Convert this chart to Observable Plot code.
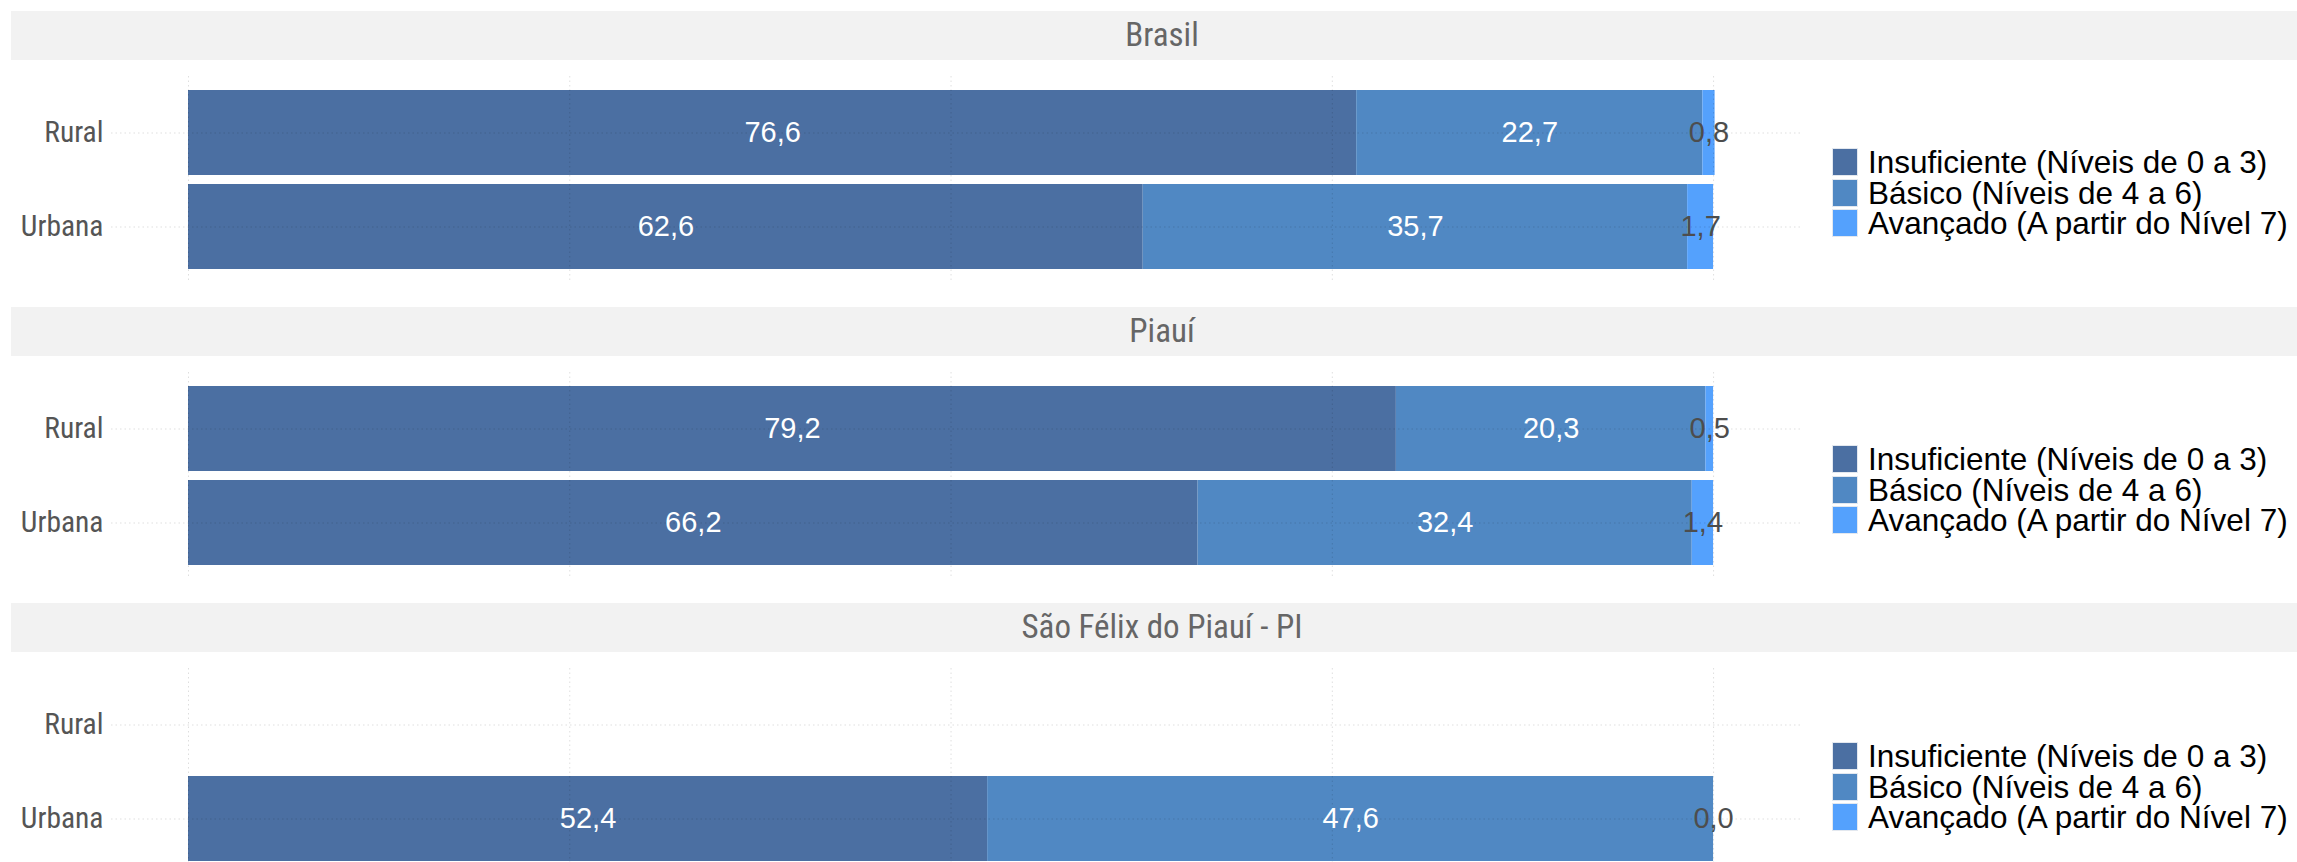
<!DOCTYPE html>
<html><head><meta charset="utf-8">
<script src="https://cdn.jsdelivr.net/npm/d3@7"></script>
<script src="https://cdn.jsdelivr.net/npm/@observablehq/plot@0.6"></script>
<style>
html,body{margin:0;padding:0;background:#fff;}
body{width:2297px;height:862px;overflow:hidden;position:relative;font-family:"Liberation Sans",Arial,sans-serif;}
.strip{position:absolute;left:11px;width:2302px;height:49px;background:#f2f2f2;color:#666;font-family:"Liberation Sans Narrow","Roboto Condensed",Roboto,sans-serif;font-size:33px;line-height:47px;text-align:center;}
.panel{position:absolute;left:0;}
.legend{position:absolute;left:1832px;}
.row{height:30.5px;position:relative;}
.sw{position:absolute;left:0;top:0;width:26px;height:28px;box-sizing:border-box;border:1px solid #e3e8ef;}
.lab{position:absolute;left:36px;top:0;font-size:31.5px;line-height:28px;color:#000;white-space:nowrap;}
</style></head><body>
<script>
const panels = ["Brasil", "Piauí", "São Félix do Piauí - PI"];
const locations = ["Rural", "Urbana"];
const levels = ["Insuficiente (Níveis de 0 a 3)", "Básico (Níveis de 4 a 6)", "Avançado (A partir do Nível 7)"];
const colors = ["#4b6fa2", "#5088c3", "#54a1fd"];
// values per panel: [Rural, Urbana]
const insuficiente = [[76.6, 62.6], [79.2, 66.2], [null, 52.4]];
const basico = [[22.7, 35.7], [20.3, 32.4], [null, 47.6]];
const avancado = [[0.8, 1.7], [0.5, 1.4], [null, 0.0]];
const gridTicks = [0, 25, 50, 75, 100];

const series = [insuficiente, basico, avancado];
const fmt = v => d3.format(".1f")(v).replace(".", ",");
const narrow = '"Liberation Sans Narrow","Roboto Condensed",Roboto,sans-serif';
const gridStyle = {stroke: "#000", strokeOpacity: 0.13, strokeDasharray: "1.5,3"};

panels.forEach((p, i) => {
  const off = i * 296;
  const strip = document.createElement("div");
  strip.className = "strip";
  strip.style.top = (11 + off) + "px";
  strip.textContent = p;
  document.body.appendChild(strip);

  const rows = [];
  locations.forEach((loc, j) => levels.forEach((lev, k) => {
    const v = series[k][i][j];
    if (v != null) rows.push({loc, level: lev, value: v});
  }));

  const chart = Plot.plot({
    width: 1810, height: 207,
    marginLeft: 111, marginRight: 10, marginTop: 0, marginBottom: 0,
    x: {domain: [-5.05, 105.7], axis: null},
    y: {domain: locations, paddingInner: 0.096, paddingOuter: 0.149, axis: null},
    color: {domain: levels, range: colors},
    style: {fontFamily: '"Liberation Sans",Arial,sans-serif', background: "transparent", overflow: "visible"},
    marks: [
      Plot.barX(rows, Plot.stackX({x: "value", y: "loc", fill: "level"})),
      Plot.ruleX(gridTicks, gridStyle),
      Plot.gridY({...gridStyle, x1: -5.05, x2: 105.7}),
      Plot.axisY({tickSize: 0, tickPadding: 8, fontSize: 29.5, fill: "#555", fontFamily: narrow, label: null}),
      Plot.text(rows, Plot.stackX({x: "value", y: "loc", z: "level",
        text: d => d.value >= 5 ? fmt(d.value) : "", fill: "white", fontSize: 29})),
      Plot.text(rows, Plot.stackX({x: "value", y: "loc", z: "level",
        text: d => d.value < 5 ? fmt(d.value) : "", fill: "#4d4d4d", fontSize: 29}))
    ]
  });
  const wrap = document.createElement("div");
  wrap.className = "panel";
  wrap.style.top = (76 + off) + "px";
  wrap.appendChild(chart);
  document.body.appendChild(wrap);

  const leg = document.createElement("div");
  leg.className = "legend";
  leg.style.top = (148 + i * 297) + "px";
  levels.forEach((lev, k) => {
    const r = document.createElement("div");
    r.className = "row";
    const sw = document.createElement("div");
    sw.className = "sw";
    sw.style.background = colors[k];
    const lab = document.createElement("div");
    lab.className = "lab";
    lab.textContent = lev;
    r.appendChild(sw); r.appendChild(lab);
    leg.appendChild(r);
  });
  document.body.appendChild(leg);
});
</script></body></html>
